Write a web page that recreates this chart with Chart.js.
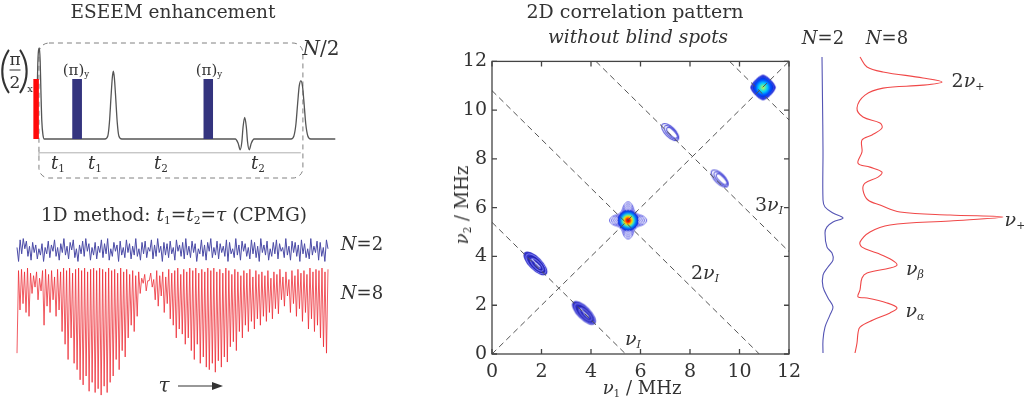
<!DOCTYPE html>
<html>
<head>
<meta charset="utf-8">
<script src="https://cdn.jsdelivr.net/npm/chart.js@4.4.0/dist/chart.umd.min.js"></script>
<style>
  html, body { margin: 0; padding: 0; background: #fff; }
  #page { position: relative; width: 1024px; height: 399px; overflow: hidden; font-family: "DejaVu Serif", serif; color: #333; }
  canvas { position: absolute; }
  .lbl { position: absolute; white-space: nowrap; line-height: 1; transform: translate(-50%, -50%); }
  .lbl sub { font-size: 0.58em; vertical-align: -0.3em; line-height: 0; }
</style>
</head>
<body>
<div id="page">
  <canvas id="pulse" width="340" height="190" style="left:0;top:0"></canvas>
  <canvas id="trace" width="340" height="174" style="left:0;top:225px"></canvas>
  <canvas id="map2d" width="380" height="354" style="left:440px;top:45px"></canvas>
  <canvas id="spec" width="224" height="354" style="left:800px;top:45px"></canvas>
</div>
<script>
// ---- pulse sequence (time in ns, amplitude relative to pulse height) ----
const pulseStart = [-7, 88, 408];
const pulseEnd = [7, 112, 432];
const pulseKind = ["x", "y", "y"];
const signalT = [0, 2, 4, 6, 8, 10, 12, 14, 17, 20, 168, 175, 179, 183, 186, 188.5, 191, 194, 198, 202, 209,
  486, 493, 498, 502, 505, 509, 513, 516, 520, 525, 532,
  622, 629, 634, 638, 642, 646, 650, 654, 658, 663, 670, 730];
const signalA = [0, 0.5, 1.2, 1.48, 1.52, 1.3, 0.75, 0.3, 0.06, 0, 0, 0.05, 0.28, 0.72, 1.02, 1.13, 1.02, 0.72, 0.28, 0.05, 0,
  0, -0.07, -0.18, -0.05, 0.2, 0.36, 0.2, -0.05, -0.18, -0.07, 0,
  0, 0.05, 0.25, 0.58, 0.88, 0.97, 0.88, 0.58, 0.25, 0.05, 0, 0];
const boxT = [7, 651];      // repeated block N/2
const boxA = [-0.65, 1.6];
const barEnd = 646;
const barA = -0.23;

// ---- 1D CPMG traces (normalised) ----
const trace2 = [
  0.2, -0.9, 0.8, -0.3, 0.9, 0.1, 0.7, -0.5, 0.3, -0.8, 0.6, -0.2, 0.4, -0.7, 0.1, -0.4, 0.5, -0.9, 0.2, -0.3,
  0.7, -0.6, 0.4, -0.1, 0.8, -0.5, 0.2, -0.8, 0.5, -0.2, 0.9, -0.4, 0.3, -0.7, 0.6, 0.0, 0.8, -0.6, 0.1, -0.9,
  0.4, -0.3, 0.7, -0.5, 0.9, -0.1, 0.5, -0.8, 0.2, -0.4, 0.6, -0.7, 0.3, -0.2, 0.8, -0.6, 0.5, -0.3, 0.9, -0.8,
  0.1, -0.5, 0.6, -0.1, 0.4, -0.9, 0.7, -0.4, 0.2, -0.6, 0.8, -0.2, 0.5, -0.7, 0.3, -0.4, 0.9, -0.5, 0.1, -0.8,
  0.6, -0.3, 0.7, -0.6, 0.2, -0.1, 0.8, -0.7, 0.4, -0.5, 0.9, -0.2, 0.3, -0.9, 0.6, -0.4, 0.5, -0.6, 0.7, -0.3,
  0.2, -0.8, 0.8, -0.1, 0.4, -0.5, 0.6, -0.7, 0.9, -0.4, 0.3, -0.6, 0.7, -0.2, 0.5, -0.9, 0.1, -0.3, 0.8, -0.5,
  0.4, -0.8, 0.6, -0.1, 0.9, -0.6, 0.2, -0.4, 0.7, -0.7, 0.5, -0.2, 0.3, -0.5, 0.8, -0.9, 0.6, -0.3, 0.1, -0.6,
  0.9, -0.4, 0.4, -0.8, 0.7, -0.1, 0.5, -0.5, 0.2, -0.7, 0.8, -0.3, 0.6, -0.6, 0.3, -0.9, 0.9, -0.2, 0.4, -0.4,
  0.7, -0.8, 0.1, -0.5, 0.6, -0.3, 0.8, -0.7, 0.5, -0.1, 0.2, -0.6, 0.9, -0.4, 0.3, -0.8, 0.7, -0.2, 0.6, -0.5,
  0.4, -0.9, 0.8, -0.3, 0.5, -0.6, 0.1, -0.7, 0.9, -0.4, 0.3, -0.2, 0.7, -0.8, 0.6, -0.5, 0.2, -0.9, 0.8, 0.1
];
const trace8 = [
  -0.67, -0.02, -0.33, -0.01, -0.28, -0.03, -0.35, 0, -0.38, -0.04,
  -0.2, -0.06, -0.15, -0.03, -0.25, -0.08, -0.18, -0.02, -0.45, -0.01,
  -0.3, -0.05, -0.35, -0.02, -0.25, -0.07, -0.38, -0.01, -0.33, -0.03, -0.5, 0,
  -0.6, -0.02, -0.72, 0, -0.55, -0.04, -0.75, -0.01, -0.8, 0,
  -0.88, -0.02, -0.92, 0, -0.85, -0.03, -0.97, -0.01, -0.9, 0, -0.98, -0.02,
  -0.95, 0, -1.0, -0.01, -0.93, -0.03, -0.98, 0, -0.9, -0.02,
  -0.85, -0.01, -0.72, -0.04, -0.8, 0, -0.65, -0.03, -0.7, -0.01,
  -0.55, -0.05, -0.45, -0.02, -0.5, -0.06, -0.38, -0.03,
  -0.2, -0.08, -0.12, -0.05, -0.18, -0.1, -0.1, -0.04, -0.15, -0.09, -0.25, -0.02,
  -0.3, -0.06, -0.22, -0.03, -0.35, -0.07, -0.28, -0.01, -0.4, -0.04,
  -0.45, -0.02, -0.55, 0, -0.48, -0.05, -0.52, -0.01, -0.6, -0.03, -0.55, 0,
  -0.65, -0.02, -0.72, 0, -0.6, -0.04, -0.75, -0.01, -0.7, -0.03, -0.78, 0,
  -0.8, -0.02, -0.75, 0, -0.82, -0.03, -0.73, -0.01, -0.78, -0.04, -0.7, 0, -0.74, -0.02,
  -0.62, -0.05, -0.58, -0.01, -0.65, -0.03, -0.5, -0.06, -0.55, -0.02,
  -0.45, -0.04, -0.5, -0.01, -0.42, -0.07, -0.48, -0.02, -0.4, -0.05, -0.45, -0.03,
  -0.38, -0.06, -0.42, -0.02, -0.35, -0.08, -0.4, -0.03, -0.32, -0.05, -0.36, -0.01,
  -0.25, -0.07, -0.3, -0.03, -0.22, -0.09, -0.35, -0.02, -0.28, -0.06, -0.38, -0.01, -0.32, -0.04,
  -0.42, -0.02, -0.35, -0.05, -0.48, 0, -0.4, -0.03, -0.5, -0.01, -0.45, -0.02,
  -0.55, 0, -0.62, -0.03, -0.67, -0.01
];

// ---- 2D correlation map (MHz) ----
const axisTicks = [0, 2, 4, 6, 8, 10, 12];
const nuI = 5.4;
const combOrders = [1, 2, 3, 4];
const peakV1 = [1.74, 3.7, 5.5, 7.2, 9.2, 10.95];
const peakV2 = [3.73, 1.7, 5.48, 9.1, 7.2, 10.93];
const peakKind = ["cross", "cross", "center", "weak", "weak", "corner"];

// ---- 1D spectra on the v2 axis ----
const specFreq8 = [11.92, 11.52, 11.32, 11.08, 10.92, 10.79, 10.67, 10.39, 9.87, 9.51, 9.27, 9.07, 8.79, 8.59,
  8.11, 7.66, 7.5, 7.3, 7.1, 6.86, 6.58, 6.18, 5.98, 5.7, 5.58, 5.5, 5.34, 5.18, 4.9, 4.49, 4.29, 4.05,
  3.77, 3.57, 3.45, 3.25, 3.05, 2.57, 2.29, 2.25, 2.05, 1.85, 1.65, 1.36, 1.08, 0.84, 0.44, 0.04];
const specInt8 = [5, 12, 28, 68, 87, 68, 28, 10, 2, 8, 25, 27, 17, 7,
  7, 3, 15, 27, 23, 10, 8, 13, 25, 45, 95, 148, 95, 35, 15, 5, 7, 22,
  37, 42, 35, 12, 7, 5, 3, 12, 32, 42, 35, 18, 5, 3, 2, 0];
const specFreq2 = [11.92, 10.19, 8.19, 6.18, 5.9, 5.66, 5.46, 5.3, 5.1, 4.86, 4.29, 4.05, 3.77, 3.49,
  3.17, 2.69, 2.25, 1.89, 1.57, 1.08, 0.56, 0.04];
const specInt2 = [1, 1.5, 2, 2, 4, 12, 22, 12, 6, 4, 6, 11, 12, 7,
  2, 2, 7, 12, 9, 4, 2, 2];

const FONT = "DejaVu Serif";
const INK = "#333";
Chart.defaults.font.family = FONT;
Chart.defaults.color = INK;
Chart.defaults.animation = false;
Chart.defaults.responsive = false;
Chart.defaults.events = [];
Chart.defaults.plugins.legend.display = false;
Chart.defaults.plugins.tooltip.enabled = false;

// ---------- pulse sequence ----------
const pulseColors = { x: "#ff0a0a", y: "#34347e" };
const pulseDecor = {
  id: "pulseDecor",
  beforeDatasetsDraw(chart) {
    const { ctx, scales: { x, y } } = chart;
    const l = x.getPixelForValue(boxT[0]), r = x.getPixelForValue(boxT[1]);
    const t = y.getPixelForValue(boxA[1]), b = y.getPixelForValue(boxA[0]);
    ctx.save();
    ctx.strokeStyle = "#808080";
    ctx.lineWidth = 1;
    ctx.setLineDash([5, 4]);
    ctx.beginPath();
    ctx.roundRect(l, t, r - l, b - t, 10);
    ctx.stroke();
    ctx.setLineDash([]);
    ctx.strokeStyle = "#b0b0b0";
    const ty = y.getPixelForValue(barA);
    ctx.beginPath();
    ctx.moveTo(l, ty); ctx.lineTo(x.getPixelForValue(barEnd), ty);
    ctx.moveTo(l, ty - 3); ctx.lineTo(l, ty + 3);
    ctx.stroke();
    ctx.restore();
  }
};

const pulseSets = pulseStart.map((s, i) => ({
  data: [{ x: s, y: 0 }, { x: s, y: 1 }, { x: pulseEnd[i], y: 1 }, { x: pulseEnd[i], y: 0 }],
  borderWidth: 0,
  backgroundColor: pulseColors[pulseKind[i]],
  fill: "origin",
  pointRadius: 0,
  showLine: true,
  order: 0
}));

new Chart(document.getElementById("pulse"), {
  type: "scatter",
  data: {
    datasets: [{
      data: signalT.map((t, i) => ({ x: t, y: signalA[i] })),
      borderColor: "#555",
      borderWidth: 1.3,
      pointRadius: 0,
      showLine: true,
      cubicInterpolationMode: "monotone",
      order: 1
    }, ...pulseSets]
  },
  options: {
    layout: { padding: 0 },
    scales: {
      x: { type: "linear", display: false, min: -88, max: 741.5 },
      y: { type: "linear", display: false, min: -0.85, max: 2.317 }
    }
  },
  plugins: [pulseDecor]
});

// ---------- 1D traces ----------
const arrowDecor = {
  id: "arrowDecor",
  afterDraw(chart) {
    const ctx = chart.ctx;
    ctx.save();
    ctx.strokeStyle = INK;
    ctx.fillStyle = INK;
    ctx.lineWidth = 1.2;
    ctx.beginPath(); ctx.moveTo(178, 161); ctx.lineTo(214, 161); ctx.stroke();
    ctx.beginPath(); ctx.moveTo(223, 161); ctx.lineTo(212, 157); ctx.lineTo(212, 165); ctx.closePath(); ctx.fill();
    ctx.restore();
  }
};

new Chart(document.getElementById("trace"), {
  type: "scatter",
  data: {
    datasets: [{
      data: trace2.map((v, i) => ({ x: i / (trace2.length - 1), y: 0.142 + 0.1 * v })),
      borderColor: "#4a4aa6",
      borderWidth: 1,
      pointRadius: 0,
      showLine: true
    }, {
      data: trace8.map((v, i) => ({ x: i / (trace8.length - 1), y: v })),
      borderColor: "rgba(236,40,48,0.85)",
      borderWidth: 0.9,
      pointRadius: 0,
      showLine: true
    }]
  },
  options: {
    layout: { padding: 0 },
    scales: {
      x: { type: "linear", display: false, min: -0.0547, max: 1.0386 },
      y: { type: "linear", display: false, min: -1.031, max: 0.339 }
    }
  },
  plugins: [arrowDecor]
});

// ---------- 2D map ----------
function makeCanvas(w, h) {
  const c = document.createElement("canvas");
  c.width = w; c.height = h;
  return c;
}
function crossPeak() {
  const c = makeCanvas(44, 44), g = c.getContext("2d");
  g.translate(22, 22); g.rotate(Math.PI / 4);
  g.fillStyle = "#3030c8";
  g.beginPath(); g.ellipse(0.5, 0, 15.5, 6.6, 0, 0, 2 * Math.PI); g.fill();
  g.lineWidth = 0.8;
  for (let k = 1; k < 6; k++) {
    g.strokeStyle = k % 2 ? "rgba(150,150,255,0.9)" : "rgba(30,30,170,1)";
    g.beginPath(); g.ellipse(0.5 + k * 0.7, 0, 15.5 - k * 2.4, 6.6 - k * 1.1, 0, 0, 2 * Math.PI); g.stroke();
  }
  g.strokeStyle = "rgba(255,255,255,0.85)"; g.lineWidth = 1;
  g.beginPath(); g.moveTo(-5, -0.5); g.lineTo(6, -0.5); g.stroke();
  return c;
}
function weakPeak() {
  const c = makeCanvas(34, 34), g = c.getContext("2d");
  g.translate(17, 17); g.rotate(Math.PI / 4);
  g.strokeStyle = "#4c4cd8"; g.lineWidth = 1;
  [[11, 5, 0], [9, 3.8, 0.9], [7, 2.6, 1.8]].forEach(([a, b, o]) => {
    g.beginPath(); g.ellipse(o, -o * 0.4, a, b, 0, 0, 2 * Math.PI); g.stroke();
  });
  return c;
}
function centerPeak() {
  const c = makeCanvas(48, 48), g = c.getContext("2d");
  g.translate(24, 24);
  g.strokeStyle = "#4646e0"; g.lineWidth = 0.9;
  for (let k = 0; k < 7; k++) {
    const R = 18.5 - k * 2.1;
    g.beginPath();
    for (let i = 0; i <= 96; i++) {
      const th = i / 96 * 2 * Math.PI;
      const r = R * (0.6 + 0.4 * Math.pow(Math.abs(Math.cos(2 * th)), 3));
      const px = r * Math.cos(th), py = r * Math.sin(th);
      if (i === 0) g.moveTo(px, py); else g.lineTo(px, py);
    }
    g.closePath(); g.stroke();
  }
  const grad = g.createRadialGradient(0, 0, 0, 0, 0, 10.5);
  grad.addColorStop(0, "#b00000");
  grad.addColorStop(0.18, "#ff2000");
  grad.addColorStop(0.38, "#ffe000");
  grad.addColorStop(0.56, "#30e0d0");
  grad.addColorStop(0.76, "#0070ff");
  grad.addColorStop(1, "#1818d0");
  g.fillStyle = grad;
  g.beginPath(); g.arc(0, 0, 10.5, 0, 2 * Math.PI); g.fill();
  return c;
}
function cornerPeak() {
  const c = makeCanvas(34, 34), g = c.getContext("2d");
  g.translate(17, 17);
  const shape = (R) => {
    g.beginPath();
    for (let i = 0; i <= 96; i++) {
      const th = i / 96 * 2 * Math.PI;
      const ct = Math.abs(Math.cos(th)), st = Math.abs(Math.sin(th));
      const r = R / Math.pow(Math.pow(ct, 1.4) + Math.pow(st, 1.4), 1 / 1.4);
      const px = r * Math.cos(th), py = r * Math.sin(th);
      if (i === 0) g.moveTo(px, py); else g.lineTo(px, py);
    }
    g.closePath();
  };
  const grad = g.createRadialGradient(0, 0, 0, 0, 0, 12.5);
  grad.addColorStop(0, "#d8f050");
  grad.addColorStop(0.16, "#60f0a0");
  grad.addColorStop(0.36, "#00c8ff");
  grad.addColorStop(0.6, "#0050ff");
  grad.addColorStop(1, "#1010c0");
  shape(12.5); g.fillStyle = grad; g.fill();
  g.strokeStyle = "#5a5ae6"; g.lineWidth = 0.8;
  [12.5, 11].forEach(R => { shape(R); g.stroke(); });
  return c;
}
const peakImages = { cross: crossPeak(), weak: weakPeak(), center: centerPeak(), corner: cornerPeak() };

const boxPlugin = {
  id: "boxPlugin",
  afterDatasetsDraw(chart) {
    const { ctx, chartArea: a, scales: { x, y } } = chart;
    ctx.save();
    ctx.strokeStyle = "#444";
    ctx.lineWidth = 1.3;
    ctx.strokeRect(a.left, a.top, a.right - a.left, a.bottom - a.top);
    ctx.beginPath();
    axisTicks.forEach(v => {
      const px = x.getPixelForValue(v), py = y.getPixelForValue(v);
      ctx.moveTo(px, a.bottom); ctx.lineTo(px, a.bottom - 5);
      ctx.moveTo(px, a.top); ctx.lineTo(px, a.top + 5);
      ctx.moveTo(a.left, py); ctx.lineTo(a.left + 5, py);
      ctx.moveTo(a.right, py); ctx.lineTo(a.right - 5, py);
    });
    ctx.stroke();
    ctx.restore();
  }
};

const lo = axisTicks[0], hi = axisTicks[axisTicks.length - 1];
const dashSets = [[{ x: lo, y: lo }, { x: hi, y: hi }]].concat(combOrders.map(k => {
  const s = k * nuI;
  return [{ x: Math.max(lo, s - hi), y: Math.min(hi, s) }, { x: Math.min(hi, s), y: Math.max(lo, s - hi) }];
})).map(pts => ({
  data: pts,
  showLine: true,
  borderColor: "#555",
  borderWidth: 1,
  borderDash: [6, 4],
  pointRadius: 0,
  order: 0
}));

const tickFont = { family: FONT, size: 19 };
new Chart(document.getElementById("map2d"), {
  type: "scatter",
  data: {
    datasets: [...dashSets, {
      data: peakV1.map((v, i) => ({ x: v, y: peakV2[i] })),
      pointStyle: peakKind.map(k => peakImages[k]),
      pointRadius: 12,
      order: 1
    }]
  },
  options: {
    layout: { padding: { top: 10, right: 31, bottom: 0, left: 0 } },
    scales: {
      x: {
        type: "linear", min: lo, max: hi,
        grid: { display: false, drawTicks: false },
        border: { display: false },
        ticks: { stepSize: 2, padding: 7, font: tickFont, color: INK, maxRotation: 0 },
        afterFit(scale) { scale.height = 45; }
      },
      y: {
        type: "linear", min: lo, max: hi,
        grid: { display: false, drawTicks: false },
        border: { display: false },
        ticks: { stepSize: 2, padding: 5, font: tickFont, color: INK },
        afterFit(scale) { scale.width = 52; }
      }
    }
  },
  plugins: [boxPlugin]
});

// ---------- spectra ----------
new Chart(document.getElementById("spec"), {
  type: "scatter",
  data: {
    datasets: [{
      data: specFreq2.map((f, i) => ({ x: 21 + specInt2[i], y: f })),
      borderColor: "#5454b4",
      borderWidth: 1.1,
      pointRadius: 0,
      showLine: true,
      tension: 0.35
    }, {
      data: specFreq8.map((f, i) => ({ x: 55 + specInt8[i], y: f })),
      borderColor: "#f04848",
      borderWidth: 1.1,
      pointRadius: 0,
      showLine: true,
      tension: 0.35
    }]
  },
  options: {
    layout: { padding: { top: 10, right: 0, bottom: 45, left: 0 } },
    scales: {
      x: { type: "linear", display: false, min: 0, max: 224 },
      y: { type: "linear", display: false, min: lo, max: hi }
    }
  }
});

// ---------- text ----------
const page = document.getElementById("page");
function addLabel(html, cx, cy, size, extra) {
  const d = document.createElement("div");
  d.className = "lbl";
  d.innerHTML = html;
  d.style.left = cx + "px";
  d.style.top = cy + "px";
  d.style.fontSize = size + "px";
  if (extra) Object.assign(d.style, extra);
  page.appendChild(d);
}
const it = s => "<i>" + s + "</i>";

addLabel("ESEEM enhancement", 173, 12, 18.5);
addLabel("1D method: " + it("t") + "<sub>1</sub>=" + it("t") + "<sub>2</sub>=" + it("τ") + " (CPMG)", 174, 215, 18.5);
addLabel("2D correlation pattern", 635, 11, 19);
addLabel(it("without blind spots"), 638, 37, 18.5);
addLabel(it("N") + "=2", 823, 38, 18);
addLabel(it("N") + "=8", 887, 38, 18);

addLabel(it("N") + "/2", 321, 48, 20);
addLabel("(π)<sub>y</sub>", 76, 70, 15);
addLabel("(π)<sub>y</sub>", 209, 70, 15);
addLabel(it("t") + "<sub>1</sub>", 58, 163, 18);
addLabel(it("t") + "<sub>1</sub>", 95, 163, 18);
addLabel(it("t") + "<sub>2</sub>", 161, 163, 18);
addLabel(it("t") + "<sub>2</sub>", 258, 163, 18);
addLabel("(", 5, 68, 50, { fontFamily: "Lato", fontWeight: "300" });
addLabel(")", 24, 68, 50, { fontFamily: "Lato", fontWeight: "300" });
addLabel("π", 15, 59, 17);
addLabel("2", 15, 82, 17);
addLabel("", 15, 70, 10, { width: "11px", height: "0px", borderTop: "1px solid #333" });
addLabel("x", 30, 89, 10);

addLabel(it("N") + "=2", 362, 244, 18);
addLabel(it("N") + "=8", 362, 293, 18);
addLabel(it("τ"), 164, 385, 20);

addLabel(it("ν") + "<sub>1</sub> / MHz", 642, 388, 18);
addLabel(it("ν") + "<sub>2</sub> / MHz", 462, 205, 18, { transform: "translate(-50%,-50%) rotate(-90deg)" });
addLabel(it("ν<sub>I</sub>"), 633, 338, 19);
addLabel("2" + it("ν<sub>I</sub>"), 705, 272, 19);
addLabel("3" + it("ν<sub>I</sub>"), 769, 204, 19);

addLabel("2" + it("ν") + "<sub>+</sub>", 968, 80, 19);
addLabel(it("ν") + "<sub>+</sub>", 1015, 219, 19);
addLabel(it("ν<sub>β</sub>"), 915, 268, 19);
addLabel(it("ν<sub>α</sub>"), 915, 310, 19);
</script>
</body>
</html>
